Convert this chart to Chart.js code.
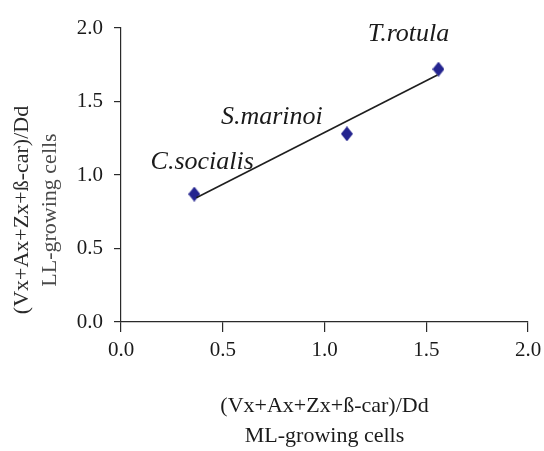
<!DOCTYPE html>
<html>
<head>
<meta charset="utf-8">
<script src="https://cdn.jsdelivr.net/npm/chart.js@4.4.1/dist/chart.umd.min.js"></script>
<style>
    html, body { margin: 0; padding: 0; background: #fff; }
    #wrap { width: 544px; height: 451px; }
</style>
</head>
<body>
<div id="wrap"><canvas id="ratioChart" width="544" height="451"></canvas></div>
<script>
// species and their pigment ratios (ML-growing vs LL-growing cells)
const species = ["C.socialis", "S.marinoi", "T.rotula"];
const mlRatio = [0.36, 1.11, 1.56];
const llRatio = [0.87, 1.28, 1.72];

// ends of the fitted line
const trendX = [0.37, 1.555];
const trendY = [0.845, 1.68];

const axisTicks = [0, 0.5, 1.0, 1.5, 2.0];

const serif = "'Liberation Serif', 'Times New Roman', serif";

// small diamond used as the marker
const diamond = document.createElement("canvas");
diamond.width = 12;
diamond.height = 15;
(() => {
    const c = diamond.getContext("2d");
    c.fillStyle = "#24248f";
    c.beginPath();
    c.moveTo(6, 0);
    c.lineTo(12, 7.5);
    c.lineTo(6, 15);
    c.lineTo(0, 7.5);
    c.closePath();
    c.fill();
})();

// species names written next to their points
const labelOffsets = [[8, -32], [-75, -17], [-30, -35]];
const speciesLabels = {
    id: "speciesLabels",
    afterDatasetsDraw(chart) {
        const { ctx } = chart;
        const meta = chart.getDatasetMeta(1);
        ctx.save();
        ctx.font = "italic 26px " + serif;
        ctx.fillStyle = "#1a1a1a";
        ctx.textAlign = "center";
        ctx.textBaseline = "middle";
        meta.data.forEach((pt, i) => {
            ctx.fillText(species[i], pt.x + labelOffsets[i][0], pt.y + labelOffsets[i][1]);
        });
        ctx.restore();
    },
};

// two-line vertical title on the left
const sideTitle = {
    id: "sideTitle",
    afterDraw(chart) {
        const { ctx } = chart;
        ctx.save();
        ctx.translate(0, 210);
        ctx.rotate(-Math.PI / 2);
        ctx.font = "22px " + serif;
        ctx.textAlign = "center";
        ctx.textBaseline = "middle";
        ctx.fillStyle = "#2a2a2a";
        ctx.fillText("(Vx+Ax+Zx+ß-car)/Dd", 0, 22);
        ctx.fillStyle = "#4a4a4a";
        ctx.fillText("LL-growing cells", 0, 50);
        ctx.restore();
    },
};

document.addEventListener("DOMContentLoaded", () => {
    const ctx = document.getElementById("ratioChart").getContext("2d");
    new Chart(ctx, {
        type: "scatter",
        data: {
            datasets: [
                {
                    data: trendX.map((x, i) => ({ x, y: trendY[i] })),
                    showLine: true,
                    borderColor: "#1e1e1e",
                    borderWidth: 1.6,
                    pointRadius: 0,
                },
                {
                    data: mlRatio.map((x, i) => ({ x, y: llRatio[i] })),
                    pointStyle: diamond,
                    pointRadius: 6,
                    backgroundColor: "#24248f",
                    borderColor: "#24248f",
                },
            ],
        },
        options: {
            responsive: false,
            animation: false,
            layout: { padding: { top: 28, right: 16, left: 0, bottom: 0 } },
            plugins: {
                legend: { display: false },
                tooltip: { enabled: false },
            },
            scales: {
                x: {
                    type: "linear",
                    min: 0,
                    max: 2,
                    afterBuildTicks: (scale) => {
                        scale.ticks = axisTicks.map((v) => ({ value: v }));
                    },
                    afterFit: (scale) => {
                        scale.height = 129;
                        scale.paddingLeft = 0;
                        scale.paddingRight = 0;
                    },
                    border: { display: true, color: "#2a2a2a", width: 1.2 },
                    grid: { drawOnChartArea: false, drawTicks: true, tickLength: 10, color: "#2a2a2a", lineWidth: 1.2 },
                    ticks: {
                        padding: 6,
                        color: "#1a1a1a",
                        font: { family: serif, size: 21 },
                        callback: (value) => value.toFixed(1),
                    },
                    title: {
                        display: true,
                        text: ["(Vx+Ax+Zx+ß-car)/Dd", "ML-growing cells"],
                        color: "#1a1a1a",
                        font: { family: serif, size: 22, lineHeight: 1.36 },
                        padding: 0,
                    },
                },
                y: {
                    type: "linear",
                    min: 0,
                    max: 2,
                    afterBuildTicks: (scale) => {
                        scale.ticks = axisTicks.map((v) => ({ value: v }));
                    },
                    afterFit: (scale) => {
                        scale.width = 121;
                        scale.paddingTop = 0;
                        scale.paddingBottom = 0;
                    },
                    border: { display: true, color: "#2a2a2a", width: 1.2 },
                    grid: { drawOnChartArea: false, drawTicks: true, tickLength: 7, color: "#2a2a2a", lineWidth: 1.2 },
                    ticks: {
                        padding: 11,
                        color: "#1a1a1a",
                        font: { family: serif, size: 21 },
                        callback: (value) => value.toFixed(1),
                    },
                },
            },
        },
        plugins: [speciesLabels, sideTitle],
    });
});
</script>
</body>
</html>
